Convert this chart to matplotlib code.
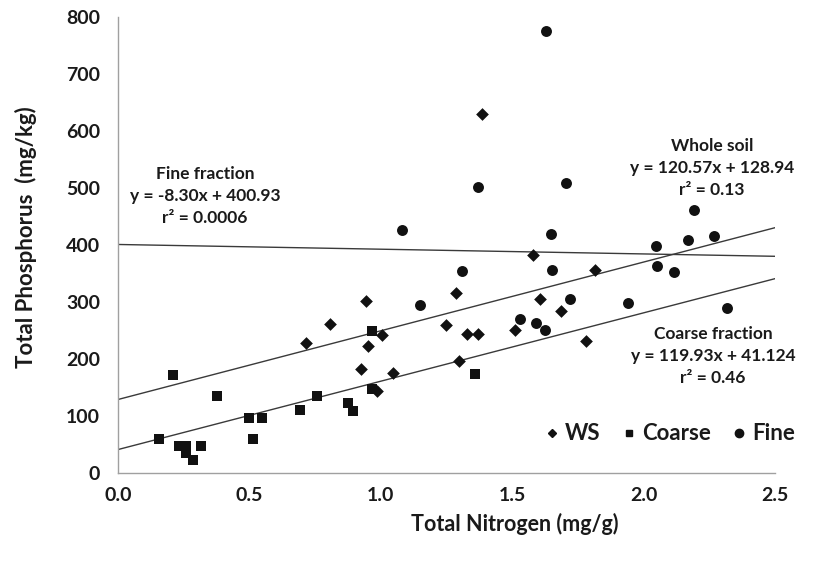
import matplotlib
matplotlib.use("Agg")
import matplotlib.pyplot as plt
from matplotlib.lines import Line2D
import numpy as np

plt.rcParams["font.family"] = ["Lato", "DejaVu Sans"]
plt.rcParams["font.weight"] = "bold"

# Whole soil (WS) samples: total N (mg/g), total P (mg/kg)
ws_n = [0.716, 0.806, 0.943, 1.249, 1.286, 1.006, 1.328, 1.369, 0.953, 1.297,
        0.924, 1.046, 0.984, 1.385, 1.580, 1.816, 1.606, 1.686, 1.511, 1.781]
ws_p = [228, 261, 301, 259, 315, 242, 243, 244, 223, 196,
        182, 176, 143, 630, 382, 357, 306, 284, 251, 231]

# Coarse fraction
coarse_n = [0.210, 0.378, 0.157, 0.233, 0.259, 0.259, 0.286, 0.316, 0.498,
            0.548, 0.513, 0.692, 0.758, 0.876, 0.896, 0.966, 0.966, 1.359]
coarse_p = [172, 135, 59, 48, 48, 35, 22, 48, 97,
            97, 60, 110, 135, 122, 109, 249, 148, 173]

# Fine fraction
fine_n = [1.081, 1.308, 1.149, 1.627, 1.368, 1.705, 1.648, 2.048, 2.170, 2.269,
          1.653, 2.051, 2.114, 1.721, 1.942, 2.317, 1.530, 1.589, 1.626, 2.192]
fine_p = [427, 354, 294, 775, 501, 508, 419, 399, 408, 416,
          356, 363, 353, 305, 298, 290, 270, 263, 251, 461]

# fitted lines (slope, intercept) as printed on the chart
fits = {
    "fine": (-8.30, 400.93),
    "whole": (120.57, 128.94),
    "coarse": (119.93, 41.124),
}

x_ticks = [0.0, 0.5, 1.0, 1.5, 2.0, 2.5]
y_ticks = [0, 100, 200, 300, 400, 500, 600, 700, 800]

TXT = "#1a1a1a"
PT = "#111111"

fig = plt.figure(figsize=(8.23, 5.67), dpi=100)
ax = fig.add_axes([0.1434, 0.1658, 0.7983, 0.8042])

xx = np.array([0.0, 2.5])
for key, (m, b) in fits.items():
    ax.plot(xx, m * xx + b, color="#3a3a3a", lw=1.0, zorder=1)

ax.scatter(ws_n, ws_p, marker="D", s=42, color=PT, zorder=3, linewidths=0)
ax.scatter(coarse_n, coarse_p, marker="s", s=62, color=PT, zorder=3, linewidths=0)
ax.scatter(fine_n, fine_p, marker="o", s=62, color=PT, zorder=3, linewidths=0)

ax.set_xlim(0, 2.5)
ax.set_ylim(0, 800)
ax.set_xticks(x_ticks)
ax.set_xticklabels([f"{v:.1f}" for v in x_ticks])
ax.set_yticks(y_ticks)
ax.set_yticklabels([str(v) for v in y_ticks])
ax.tick_params(length=0, labelsize=14, colors=TXT)
ax.tick_params(axis="x", pad=10)
ax.tick_params(axis="y", pad=13)

for side in ("top", "right"):
    ax.spines[side].set_visible(False)
for side in ("left", "bottom"):
    ax.spines[side].set_color("#a0a0a0")
    ax.spines[side].set_linewidth(1.0)

ax.set_xlabel("Total Nitrogen (mg/g)", fontsize=15.5, fontweight="bold",
              color=TXT)
ax.xaxis.set_label_coords((515 - 118) / (775 - 118), -0.088)
ax.set_ylabel("Total Phosphorus  (mg/kg)", fontsize=16, fontweight="bold",
              color=TXT)
ax.yaxis.set_label_coords(-0.124, (473 - 237) / (473 - 17))

ann = dict(fontsize=12.5, fontweight="bold", color=TXT, ha="center",
           va="center", linespacing=1.45, transform=fig.transFigure)
fig.text(205 / 823, 1 - 196 / 567,
         "Fine fraction\ny = -8.30x + 400.93\nr² = 0.0006", **ann)
fig.text(712 / 823, 1 - 168 / 567,
         "Whole soil\ny = 120.57x + 128.94\nr² = 0.13", **ann)
fig.text(713 / 823, 1 - 356 / 567,
         "Coarse fraction\ny = 119.93x + 41.124\nr² = 0.46", **ann)

handles = [
    Line2D([], [], marker="D", ls="none", color=PT, markersize=4.5),
    Line2D([], [], marker="s", ls="none", color=PT, markersize=5),
    Line2D([], [], marker="o", ls="none", color=PT, markersize=6),
]
leg = ax.legend(handles, ["WS", "Coarse", "Fine"], ncol=3, frameon=False,
                loc="center", bbox_to_anchor=(670 / 823, 1 - 434 / 567),
                bbox_transform=fig.transFigure, fontsize=16, handlelength=0.6,
                handletextpad=0.3, columnspacing=0.95)
for t in leg.get_texts():
    t.set_fontweight("bold")
    t.set_color(TXT)

fig.savefig("out.png", dpi=100)
